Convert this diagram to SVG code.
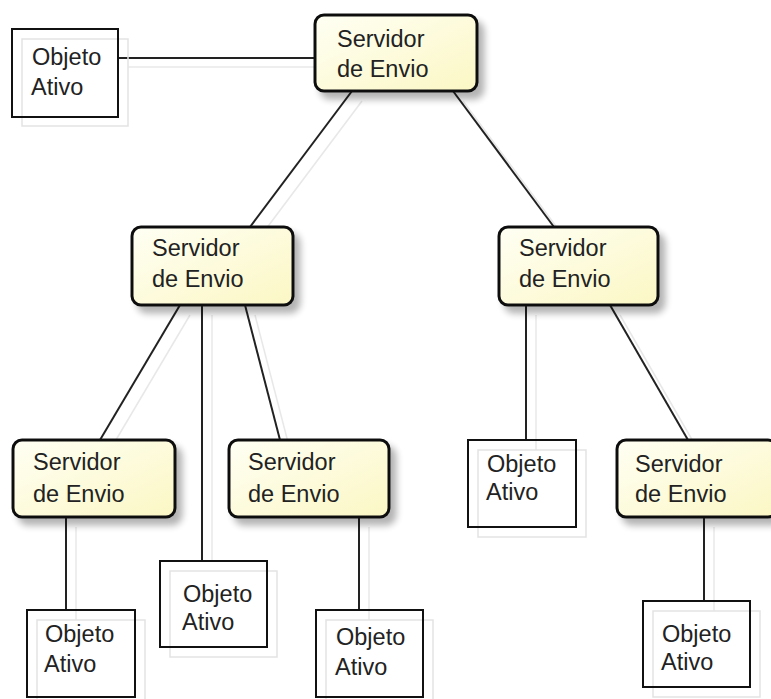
<svg xmlns="http://www.w3.org/2000/svg" width="771" height="699" viewBox="0 0 771 699">
  <defs>
    <linearGradient id="srvFill" x1="0" y1="0" x2="1" y2="1">
      <stop offset="0" stop-color="#fffff4"/>
      <stop offset="1" stop-color="#fbf7c4"/>
    </linearGradient>
    <filter id="dropShadow" x="-20%" y="-20%" width="150%" height="160%">
      <feGaussianBlur in="SourceAlpha" stdDeviation="3.5"/>
      <feOffset dx="6" dy="7" result="blur"/>
      <feComponentTransfer><feFuncA type="linear" slope="0.3"/></feComponentTransfer>
      <feMerge><feMergeNode/><feMergeNode in="SourceGraphic"/></feMerge>
    </filter>
  </defs>
  <style>
    .srv { fill: url(#srvFill); stroke: #111; stroke-width: 3; filter: url(#dropShadow); }
    .obj { fill: none; stroke: #111; stroke-width: 2; }
    .ghost { fill: none; stroke: #e3e3e3; stroke-width: 1.5; }
    .link { stroke: #222; stroke-width: 2; fill: none; }
    .ghostLink { stroke: #e8e8e8; stroke-width: 1.5; fill: none; }
    text { font-family: "Liberation Sans", Arial, sans-serif; font-size: 23.5px; fill: #222; }
  </style>
  <rect width="771" height="699" fill="#ffffff"/>

  <!-- connectors -->
  <g id="connectors">
    <g class="ghostLink">
      <line x1="128" y1="67" x2="315" y2="67"/>
      <line x1="362" y1="101" x2="260" y2="237"/>
      <line x1="463" y1="101" x2="564" y2="237"/>
      <line x1="190" y1="315" x2="110" y2="450"/>
      <line x1="212" y1="315" x2="212" y2="561"/>
      <line x1="255" y1="315" x2="290" y2="450"/>
      <line x1="536" y1="315" x2="536" y2="450"/>
      <line x1="620" y1="315" x2="698" y2="450"/>
      <line x1="76" y1="527" x2="76" y2="620"/>
      <line x1="369" y1="527" x2="369" y2="620"/>
      <line x1="714" y1="527" x2="714" y2="611"/>
    </g>
    <g class="link">
      <line x1="118" y1="58" x2="315" y2="58"/>
      <line x1="352" y1="91" x2="250" y2="227"/>
      <line x1="453" y1="91" x2="554" y2="227"/>
      <line x1="180" y1="305" x2="100" y2="440"/>
      <line x1="202" y1="305" x2="202" y2="561"/>
      <line x1="245" y1="305" x2="280" y2="440"/>
      <line x1="526" y1="305" x2="526" y2="440"/>
      <line x1="610" y1="305" x2="688" y2="440"/>
      <line x1="66" y1="517" x2="66" y2="610"/>
      <line x1="359" y1="517" x2="359" y2="610"/>
      <line x1="704" y1="517" x2="704" y2="601"/>
    </g>
  </g>

  <!-- sending servers -->
  <g id="servidor-raiz">
    <rect class="srv" x="315" y="15" width="162" height="76" rx="9"/>
    <text x="337" y="47">Servidor</text>
    <text x="337" y="77">de Envio</text>
  </g>
  <g id="servidor-esq">
    <rect class="srv" x="132" y="227" width="161" height="78" rx="9"/>
    <text x="152" y="256">Servidor</text>
    <text x="152" y="287">de Envio</text>
  </g>
  <g id="servidor-dir">
    <rect class="srv" x="499" y="227" width="159" height="78" rx="9"/>
    <text x="519" y="256">Servidor</text>
    <text x="519" y="287">de Envio</text>
  </g>
  <g id="servidor-esq-a">
    <rect class="srv" x="13" y="440" width="162" height="77" rx="9"/>
    <text x="33" y="470">Servidor</text>
    <text x="33" y="502">de Envio</text>
  </g>
  <g id="servidor-esq-b">
    <rect class="srv" x="229" y="440" width="160" height="77" rx="9"/>
    <text x="248" y="470">Servidor</text>
    <text x="248" y="502">de Envio</text>
  </g>
  <g id="servidor-dir-b">
    <rect class="srv" x="617" y="440" width="160" height="77" rx="9"/>
    <text x="635" y="472">Servidor</text>
    <text x="635" y="502">de Envio</text>
  </g>

  <!-- active objects -->
  <g id="objeto-raiz">
    <rect class="ghost" x="22" y="39" width="106" height="87"/>
    <rect class="obj" x="12" y="29" width="106" height="88"/>
    <text x="32" y="65">Objeto</text>
    <text x="31" y="95">Ativo</text>
  </g>
  <g id="objeto-esq">
    <rect class="ghost" x="170" y="571" width="107" height="86"/>
    <rect class="obj" x="160" y="561" width="107" height="86"/>
    <text x="183" y="602">Objeto</text>
    <text x="182" y="630">Ativo</text>
  </g>
  <g id="objeto-dir">
    <rect class="ghost" x="478" y="450" width="108" height="87"/>
    <rect class="obj" x="468" y="440" width="108" height="87"/>
    <text x="487" y="472">Objeto</text>
    <text x="486" y="500">Ativo</text>
  </g>
  <g id="objeto-esq-a">
    <rect class="ghost" x="37" y="620" width="108" height="87"/>
    <rect class="obj" x="27" y="610" width="108" height="87"/>
    <text x="45" y="642">Objeto</text>
    <text x="44" y="672">Ativo</text>
  </g>
  <g id="objeto-esq-b">
    <rect class="ghost" x="326" y="620" width="107" height="87"/>
    <rect class="obj" x="316" y="610" width="107" height="87"/>
    <text x="336" y="645">Objeto</text>
    <text x="335" y="675">Ativo</text>
  </g>
  <g id="objeto-dir-b">
    <rect class="ghost" x="653" y="611" width="107" height="86"/>
    <rect class="obj" x="643" y="601" width="107" height="86"/>
    <text x="662" y="642">Objeto</text>
    <text x="661" y="670">Ativo</text>
  </g>
</svg>
